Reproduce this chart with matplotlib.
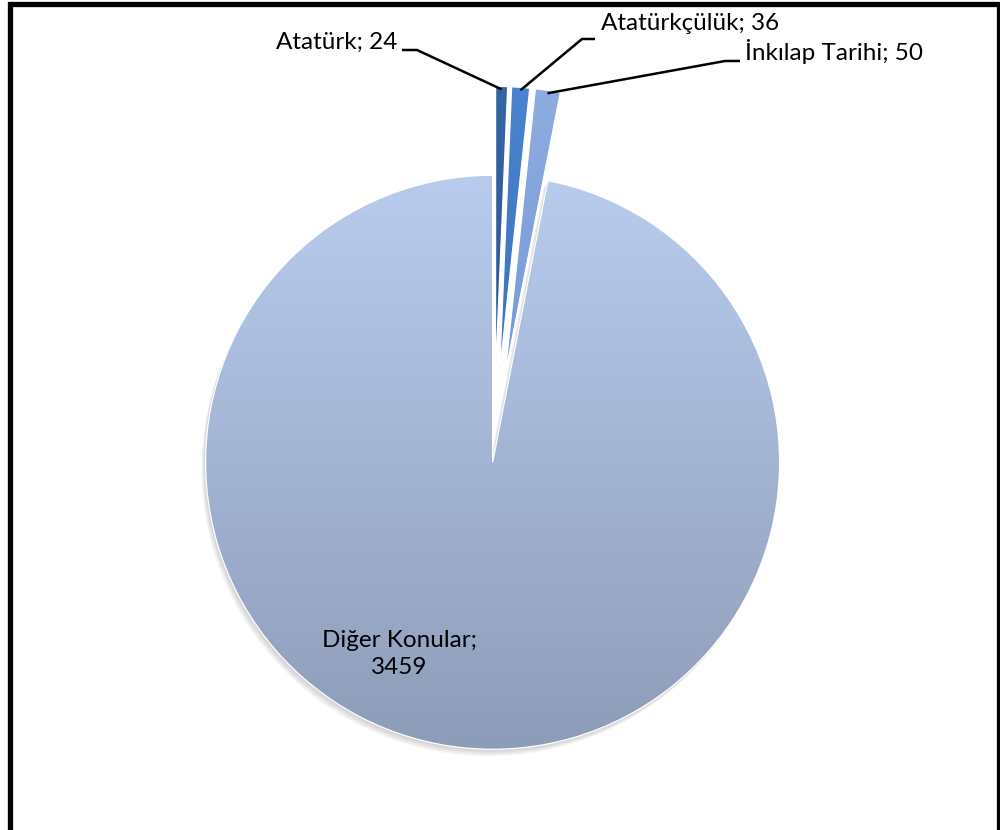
import numpy as np
import matplotlib.pyplot as plt
from matplotlib.colors import LinearSegmentedColormap
from matplotlib.patches import Rectangle, Wedge

plt.rcParams['font.family'] = ['Lato', 'DejaVu Sans']

labels = ['Atatürk', 'Atatürkçülük', 'İnkılap Tarihi', 'Diğer Konular']
values = [24, 36, 50, 3459]
explode = [0.26, 0.26, 0.26, 0.05]
top_colors = ['#3566A6', '#4A84CE', '#8DADE2', '#B9CCEE']
bottom_colors = ['#1F4679', '#2C62AA', '#5F84C4', '#8D9CB8']

W, H = 1000, 830
R = 287            # pixels per pie radius
cx, cy = 494, 448  # pie centre, pixels from top-left

fig = plt.figure(figsize=(W / 100, H / 100), dpi=100)
ax = fig.add_axes([0, 0, 1, 1])


def px(x, y):
    # pixel (from top-left) -> data coords
    return (x - cx) / R, (cy - y) / R


wedges, _ = ax.pie(values, explode=explode, startangle=90, counterclock=False,
                   radius=1, colors=top_colors,
                   wedgeprops=dict(edgecolor='white', linewidth=0.9))

# soft shadow under the big slice
big = wedges[3]
for k in range(6):
    off = 0.004 * (k + 1)
    sh = Wedge((big.center[0] - off * 0.6, big.center[1] - off), big.r,
               big.theta1, big.theta2, facecolor='#707070', edgecolor='none',
               alpha=0.06, zorder=0.5)
    ax.add_patch(sh)

# vertical gradient fill inside each wedge
grad = np.linspace(0, 1, 256).reshape(-1, 1)
for w, c0, c1 in zip(wedges, top_colors, bottom_colors):
    xc, yc = w.center
    r = w.r
    cmap = LinearSegmentedColormap.from_list('g', [c0, c1])
    im = ax.imshow(grad, cmap=cmap, extent=(xc - r, xc + r, yc - r, yc + r),
                   origin='upper', aspect='auto', zorder=1.5, interpolation='bilinear')
    im.set_clip_path(w)
    w.set_facecolor('none')
    w.set_zorder(2)

# labels for the small slices with leader lines
text_pos = [(397, 42, 'right'), (601, 24, 'left'), (745, 51, 'left')]
elbow = [((402, 50), (417, 50)), ((595, 39), (582, 39)), ((740, 61), (725, 61))]
for i in range(3):
    w = wedges[i]
    mid = np.deg2rad((w.theta1 + w.theta2) / 2)
    ax_pt = (w.center[0] + 0.99 * w.r * np.cos(mid), w.center[1] + 0.99 * w.r * np.sin(mid))
    p0 = px(*elbow[i][0])
    p1 = px(*elbow[i][1])
    ax.plot([p0[0], p1[0], ax_pt[0]], [p0[1], p1[1], ax_pt[1]], color='black',
            lw=1.8, zorder=3, solid_capstyle='butt')
    tx, ty, ha = text_pos[i]
    fig.text(tx / W, 1 - ty / H, f'{labels[i]}; {values[i]}', ha=ha, va='center',
             fontsize=17.5, color='black')

fig.text(399 / W, 1 - 654 / H, f'{labels[3]};\n{values[3]}', ha='center', va='center',
         fontsize=17.5, color='black', linespacing=1.4)

ax.set_xlim(-cx / R, (W - cx) / R)
ax.set_ylim(-(H - cy) / R, cy / R)
ax.set_aspect('equal')
ax.axis('off')

# outer frame
fig.patches.append(Rectangle((9.5 / W, -10 / H), (999 - 9.5) / W, (H - 4.5 + 10) / H,
                             transform=fig.transFigure, fill=False, edgecolor='black',
                             linewidth=3.8))

fig.savefig('out.png', dpi=100)
